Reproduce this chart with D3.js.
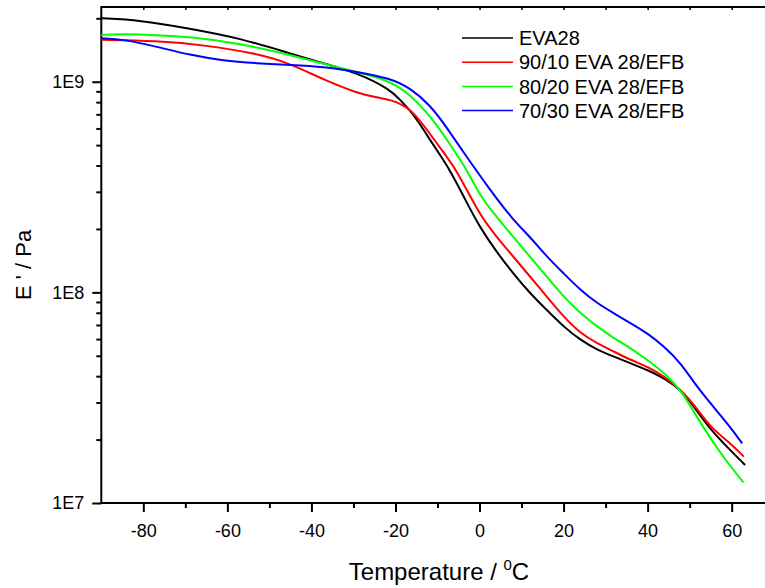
<!DOCTYPE html>
<html>
<head>
<meta charset="utf-8">
<script src="https://cdn.jsdelivr.net/npm/d3@7"></script>
<style>
  body { margin: 0; background: #fff; }
  svg { display: block; }
  text { font-family: "Liberation Sans", Arial, sans-serif; fill: #000; }
</style>
</head>
<body>
<div id="chart"></div>
<script>
// data (temperature in C, storage modulus in Pa)
let seriesNames = ["EVA28", "90/10 EVA 28/EFB", "80/20 EVA 28/EFB", "70/30 EVA 28/EFB"];
let seriesColors = ["#000000", "#ff0000", "#00ff00", "#0000ff"];

let tempEva = [-90, -81, -69, -57, -45, -37, -29, -21.3, -18.9, -16.5, -14.2, -12.3, -10.2, -7, -3, 0, 4, 8, 12, 16, 20, 24, 28, 32, 36, 40, 44, 48, 51, 55, 59.6, 63.2];
let modEva = [2.00e9, 1.96e9, 1.79e9, 1.61e9, 1.36e9, 1.22e9, 1.10e9, 9.2e8, 8.2e8, 7.3e8, 6.3e8, 5.5e8, 4.74e8, 3.81e8, 2.66e8, 2.05e8, 1.56e8, 1.23e8, 9.9e7, 8.25e7, 6.87e7, 5.94e7, 5.33e7, 4.95e7, 4.60e7, 4.28e7, 3.91e7, 3.44e7, 2.87e7, 2.22e7, 1.785e7, 1.515e7];

let temp9010 = [-90, -77, -65, -53, -45, -37, -29, -23.7, -21.3, -16.5, -13, -9, -5.4, 0, 4, 8, 12, 16, 20, 24, 28, 32, 36, 40, 44, 48, 51.7, 54.8, 59.6, 62.9];
let mod9010 = [1.58e9, 1.565e9, 1.49e9, 1.36e9, 1.22e9, 1.02e9, 8.8e8, 8.35e8, 8.25e8, 7.5e8, 6.1e8, 4.74e8, 3.81e8, 2.33e8, 1.84e8, 1.48e8, 1.19e8, 9.54e7, 7.66e7, 6.39e7, 5.73e7, 5.23e7, 4.77e7, 4.44e7, 3.98e7, 3.44e7, 2.82e7, 2.30e7, 1.93e7, 1.66e7];

let temp8020 = [-90, -85, -77, -69, -57, -45, -33, -21.3, -16.5, -11.8, -6.1, -3, 0, 4, 8, 12, 16, 20, 24, 28, 32, 36, 40, 44, 48, 52.5, 57.9, 62.8];
let mod8020 = [1.666e9, 1.685e9, 1.666e9, 1.635e9, 1.52e9, 1.34e9, 1.158e9, 1.02e9, 8.65e8, 6.95e8, 4.74e8, 3.81e8, 2.90e8, 2.286e8, 1.837e8, 1.477e8, 1.187e8, 9.54e7, 7.95e7, 6.87e7, 6.05e7, 5.43e7, 4.77e7, 4.13e7, 3.44e7, 2.40e7, 1.654e7, 1.254e7];

let temp7030 = [-90, -84.7, -76.8, -68.9, -61, -53, -45.1, -37.2, -29.2, -21.3, -16.5, -11.8, -8.2, -4.2, 2.5, 8, 12, 16, 20, 24, 28, 32, 36, 40, 44, 48, 51.7, 55.6, 59.6, 62.5];
let mod7030 = [1.607e9, 1.59e9, 1.466e9, 1.339e9, 1.258e9, 1.223e9, 1.2e9, 1.178e9, 1.116e9, 1.038e9, 9.34e8, 7.75e8, 6.23e8, 4.74e8, 3.06e8, 2.206e8, 1.837e8, 1.477e8, 1.231e8, 1.026e8, 8.87e7, 7.95e7, 7.13e7, 6.39e7, 5.52e7, 4.60e7, 3.56e7, 2.87e7, 2.30e7, 1.92e7];

let xMajor = [-80, -60, -40, -20, 0, 20, 40, 60];
let xMinor = [-70, -50, -30, -10, 10, 30, 50];
let yMajor = [1e7, 1e8, 1e9];

let allTemps = [tempEva, temp9010, temp8020, temp7030];
let allMods = [modEva, mod9010, mod8020, mod7030];

const width = 765, height = 588;
const plotLeft = 101.3, plotRight = 773.7, plotTop = 7, plotBottom = 503;

let svg = d3.select("#chart").append("svg")
  .attr("width", width)
  .attr("height", height);

let x = d3.scaleLinear().domain([-90, 70]).range([plotLeft, plotRight]);
let y = d3.scaleLog().domain([1e7, 2.263e9]).range([plotBottom, plotTop]);

let yMinor = [];
[1e7, 1e8, 1e9].forEach(function (dec) {
  for (let k = 2; k <= 9; k++) {
    if (dec * k <= 2.263e9) yMinor.push(dec * k);
  }
});

// bottom axis (plain hyphen for negatives, like the original)
let gxMajor = svg.append("g")
  .attr("transform", `translate(0,${plotBottom})`)
  .call(d3.axisBottom(x).tickValues(xMajor).tickSize(9).tickPadding(12).tickFormat(d => String(d)))
  .attr("font-size", "18px")
  .attr("font-family", null);
gxMajor.select(".domain").remove();
gxMajor.selectAll("line").attr("stroke-width", 2);

let gxMinor = svg.append("g")
  .attr("transform", `translate(0,${plotBottom})`)
  .call(d3.axisBottom(x).tickValues(xMinor).tickSize(5).tickFormat(""));
gxMinor.select(".domain").remove();
gxMinor.selectAll("line").attr("stroke-width", 2);

// top axis, small inward ticks
let gxTop = svg.append("g")
  .attr("transform", `translate(0,${plotTop})`)
  .call(d3.axisTop(x).tickValues(xMajor.concat(xMinor)).tickSize(-3).tickFormat(""));
gxTop.select(".domain").remove();
gxTop.selectAll("line").attr("stroke-width", 1.5);

// left axis
let gyMajor = svg.append("g")
  .attr("transform", `translate(${plotLeft},0)`)
  .call(d3.axisLeft(y).tickValues(yMajor).tickSize(9).tickPadding(8)
    .tickFormat(d => "1E" + Math.round(Math.log10(d))))
  .attr("font-size", "18px")
  .attr("font-family", null);
gyMajor.select(".domain").remove();
gyMajor.selectAll("line").attr("stroke-width", 2);

let gyMinor = svg.append("g")
  .attr("transform", `translate(${plotLeft},0)`)
  .call(d3.axisLeft(y).tickValues(yMinor).tickSize(5).tickFormat(""));
gyMinor.select(".domain").remove();
gyMinor.selectAll("line").attr("stroke-width", 2);

// frame
svg.append("rect")
  .attr("x", plotLeft)
  .attr("y", plotTop)
  .attr("width", plotRight - plotLeft)
  .attr("height", plotBottom - plotTop)
  .attr("fill", "none")
  .attr("stroke", "#000")
  .attr("stroke-width", 2);

// curves
let line = d3.line()
  .x(d => x(d[0]))
  .y(d => y(d[1]))
  .curve(d3.curveBasis);

seriesNames.forEach(function (name, i) {
  let pts = allTemps[i].map((t, j) => [t, allMods[i][j]]);
  svg.append("path")
    .datum(pts)
    .attr("d", line)
    .attr("fill", "none")
    .attr("stroke", seriesColors[i])
    .attr("stroke-width", 2);
});

// legend
let legend = svg.append("g").attr("transform", "translate(462,38)");
seriesNames.forEach(function (name, i) {
  let row = legend.append("g").attr("transform", `translate(0,${i * 24.2})`);
  row.append("line")
    .attr("x1", 0).attr("x2", 51)
    .attr("y1", 0).attr("y2", 0)
    .attr("stroke", seriesColors[i])
    .attr("stroke-width", 1.5);
  row.append("text")
    .attr("x", 57)
    .attr("dy", "0.36em")
    .attr("font-size", "20px")
    .text(name);
});

// axis titles
let xt = svg.append("text")
  .attr("x", 439)
  .attr("y", 580)
  .attr("text-anchor", "middle")
  .attr("font-size", "24px");
xt.append("tspan").text("Temperature / ");
xt.append("tspan").attr("font-size", "15px").attr("dy", -10).text("0");
xt.append("tspan").attr("dy", 10).text("C");

svg.append("text")
  .attr("transform", "translate(31,265) rotate(-90)")
  .attr("text-anchor", "middle")
  .attr("font-size", "22px")
  .text("E ' / Pa");
</script>
</body>
</html>
